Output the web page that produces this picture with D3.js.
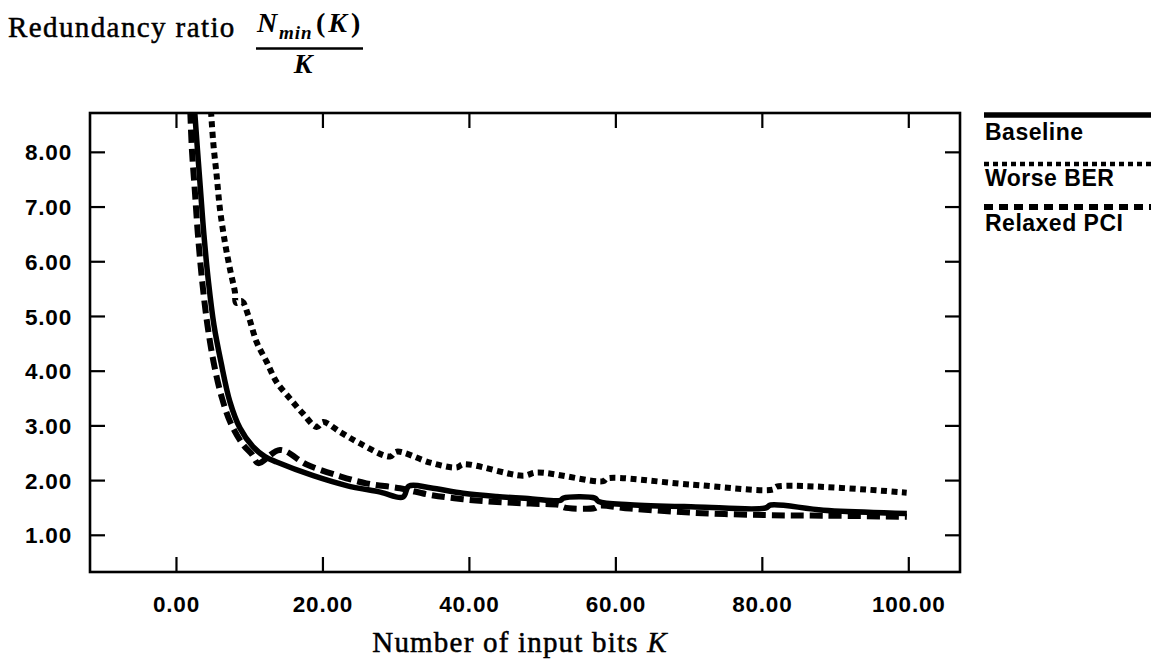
<!DOCTYPE html>
<html>
<head>
<meta charset="utf-8">
<script src="https://cdn.jsdelivr.net/npm/d3@7/dist/d3.min.js"></script>
<style>
  html, body { margin: 0; padding: 0; background: #fff; }
  svg { display: block; }
</style>
</head>
<body>
<div id="chart"></div>
<script>
// ---------- data ----------
const seriesNames = ["Baseline", "Worse BER", "Relaxed PCI"];

const baselineK = [2.55, 2.94, 3.35, 3.82, 4.44, 5.19, 6.14, 7.37, 8.74, 10.51, 12.15, 13.75, 18.75, 23.3, 27.9, 31.0, 31.8, 34.7, 39.2, 43.8, 48.4, 52.5, 52.9, 57.2, 57.7, 62.0, 71.0, 80.5, 81.2, 88.4, 99.8];
const baselineRatio = [8.75, 8.03, 7.30, 6.48, 5.62, 4.83, 4.16, 3.43, 2.95, 2.61, 2.43, 2.33, 2.08, 1.90, 1.78, 1.69, 1.89, 1.86, 1.76, 1.70, 1.66, 1.63, 1.67, 1.67, 1.61, 1.55, 1.51, 1.49, 1.545, 1.45, 1.39];

const worseK = [4.78, 5.09, 5.56, 6.01, 6.69, 7.37, 8.06, 8.2, 9.0, 9.87, 11.02, 12.39, 13.75, 15.57, 17.38, 19.21, 20.11, 22.4, 25.13, 29.22, 30.14, 34.7, 38.33, 39.23, 47.43, 49.26, 58.35, 58.81, 70.19, 81.56, 82.03, 99.78];
const worseRatio = [8.75, 8.17, 7.56, 6.95, 6.34, 5.86, 5.43, 5.24, 5.27, 5.01, 4.52, 4.16, 3.79, 3.49, 3.21, 2.97, 3.06, 2.88, 2.67, 2.43, 2.52, 2.32, 2.23, 2.29, 2.08, 2.14, 1.98, 2.03, 1.92, 1.83, 1.88, 1.77];

const relaxedK = [1.95, 2.18, 2.57, 3.00, 3.59, 4.30, 5.19, 6.28, 7.51, 9.15, 10.38, 11.24, 14.2, 17.85, 22.4, 26.0, 30.6, 34.7, 39.2, 43.8, 48.4, 52.5, 53.0, 57.2, 57.7, 62.0, 71.0, 80.5, 88.4, 99.8];
const relaxedRatio = [8.75, 8.03, 7.30, 6.48, 5.62, 4.83, 4.12, 3.50, 3.03, 2.65, 2.47, 2.31, 2.55, 2.285, 2.07, 1.94, 1.85, 1.73, 1.65, 1.60, 1.57, 1.54, 1.50, 1.49, 1.53, 1.48, 1.40, 1.36, 1.35, 1.33];

const xTicks = [0, 20, 40, 60, 80, 100];
const yTicks = [1, 2, 3, 4, 5, 6, 7, 8];
const xDomain = [-11.74, 107.06];
const yDomain = [0.32, 8.71];

// ---------- layout ----------
const W = 1151, H = 668;
const plot = { left: 90, right: 960, top: 113, bottom: 572 };

const svg = d3.select("#chart").append("svg")
  .attr("width", W).attr("height", H)
  .style("background", "#fff");

const x = d3.scaleLinear().domain(xDomain).range([plot.left, plot.right]);
const y = d3.scaleLinear().domain(yDomain).range([plot.bottom, plot.top]);

svg.append("defs").append("clipPath").attr("id", "plotClip")
  .append("rect")
  .attr("x", plot.left).attr("y", plot.top)
  .attr("width", plot.right - plot.left).attr("height", plot.bottom - plot.top);

const zip = (ks, vs) => ks.map((k, i) => ({ k, v: vs[i] }));
const line = d3.line().x(d => x(d.k)).y(d => y(d.v)).curve(d3.curveCatmullRom.alpha(0.5));

const curves = svg.append("g").attr("clip-path", "url(#plotClip)");

curves.append("path")
  .datum(zip(worseK, worseRatio))
  .attr("d", line)
  .attr("fill", "none").attr("stroke", "#000")
  .attr("stroke-width", 6).attr("stroke-dasharray", "6,4.5")
  .attr("stroke-linecap", "butt");

curves.append("path")
  .datum(zip(relaxedK, relaxedRatio))
  .attr("d", line)
  .attr("fill", "none").attr("stroke", "#000")
  .attr("stroke-width", 6).attr("stroke-dasharray", "13,6")
  .attr("stroke-linecap", "butt").attr("stroke-linejoin", "miter");

curves.append("path")
  .datum(zip(baselineK, baselineRatio))
  .attr("d", line)
  .attr("fill", "none").attr("stroke", "#000")
  .attr("stroke-width", 5.5)
  .attr("stroke-linejoin", "miter");

// ---------- axes (mirrored ticks on all four sides, pointing inward) ----------
const tickLen = 15;
const axisFont = "'Liberation Sans', Arial, Helvetica, sans-serif";
const fmt = d3.format(".2f");

const axBottom = svg.append("g").attr("transform", `translate(0,${plot.bottom})`)
  .call(d3.axisBottom(x).tickValues(xTicks).tickSizeInner(-tickLen).tickSizeOuter(0).tickFormat(fmt));
const axTop = svg.append("g").attr("transform", `translate(0,${plot.top})`)
  .call(d3.axisTop(x).tickValues(xTicks).tickSizeInner(-tickLen).tickSizeOuter(0).tickFormat(""));
const axLeft = svg.append("g").attr("transform", `translate(${plot.left},0)`)
  .call(d3.axisLeft(y).tickValues(yTicks).tickSizeInner(-tickLen).tickSizeOuter(0).tickFormat(fmt));
const axRight = svg.append("g").attr("transform", `translate(${plot.right},0)`)
  .call(d3.axisRight(y).tickValues(yTicks).tickSizeInner(-tickLen).tickSizeOuter(0).tickFormat(""));

[axBottom, axTop, axLeft, axRight].forEach(g => {
  g.select(".domain").remove();
  g.selectAll(".tick line").attr("stroke", "#000").attr("stroke-width", 2.2);
});

axBottom.selectAll(".tick text")
  .attr("y", 40).attr("dy", 0)
  .style("font-family", axisFont).style("font-weight", "bold")
  .style("font-size", "22.5px").style("letter-spacing", "0.8px")
  .attr("fill", "#000");
axLeft.selectAll(".tick text")
  .attr("x", -18).attr("dy", "0.36em")
  .style("font-family", axisFont).style("font-weight", "bold")
  .style("font-size", "22.5px").style("letter-spacing", "0.8px")
  .attr("fill", "#000");

// frame
svg.append("rect")
  .attr("x", plot.left).attr("y", plot.top)
  .attr("width", plot.right - plot.left).attr("height", plot.bottom - plot.top)
  .attr("fill", "none").attr("stroke", "#000").attr("stroke-width", 2.6);

// ---------- legend ----------
const legend = svg.append("g");
const legendItems = [
  { name: seriesNames[0], lineY: 115, textY: 140, width: 5.5, dash: null },
  { name: seriesNames[1], lineY: 164, textY: 186, width: 4.5, dash: "5,4" },
  { name: seriesNames[2], lineY: 207, textY: 231, width: 6, dash: "9,6" }
];
legendItems.forEach(it => {
  const l = legend.append("line")
    .attr("x1", 984).attr("x2", W).attr("y1", it.lineY).attr("y2", it.lineY)
    .attr("stroke", "#000").attr("stroke-width", it.width);
  if (it.dash) l.attr("stroke-dasharray", it.dash);
  legend.append("text")
    .attr("x", 985).attr("y", it.textY)
    .style("font-family", axisFont).style("font-weight", "bold")
    .style("font-size", "23px").style("letter-spacing", "0.5px")
    .text(it.name);
});

// ---------- titles ----------
const serif = "'Liberation Serif', 'Times New Roman', Times, serif";

svg.append("text")
  .attr("x", 8).attr("y", 37)
  .style("font-family", serif).style("font-size", "29px").style("letter-spacing", "1.4px")
  .attr("stroke", "#000").attr("stroke-width", 0.5)
  .text("Redundancy ratio");

const num = svg.append("text")
  .attr("y", 32)
  .style("font-family", serif).style("font-weight", "bold");
num.append("tspan").attr("x", 257).style("font-style", "italic").style("font-size", "28px").text("N");
num.append("tspan").attr("x", 279).attr("dy", 7).style("font-style", "italic").style("font-size", "19px").style("letter-spacing", "1px").text("min");
num.append("tspan").attr("x", 316).attr("dy", -7).style("font-size", "28px").text("(");
num.append("tspan").style("font-style", "italic").style("font-size", "28px").attr("dx", 3).text("K");
num.append("tspan").style("font-size", "28px").attr("dx", 4).text(")");

svg.append("line")
  .attr("x1", 256).attr("x2", 363).attr("y1", 48.5).attr("y2", 48.5)
  .attr("stroke", "#000").attr("stroke-width", 2.5);

svg.append("text")
  .attr("x", 303).attr("y", 73).attr("text-anchor", "middle")
  .style("font-family", serif).style("font-weight", "bold").style("font-style", "italic")
  .style("font-size", "28px")
  .text("K");

const xt = svg.append("text")
  .attr("x", 520).attr("y", 652).attr("text-anchor", "middle")
  .style("font-family", serif).style("font-size", "29px").style("letter-spacing", "1.2px")
  .attr("stroke", "#000").attr("stroke-width", 0.5);
xt.append("tspan").text("Number of input bits ");
xt.append("tspan").style("font-style", "italic").text("K");
</script>
</body>
</html>
